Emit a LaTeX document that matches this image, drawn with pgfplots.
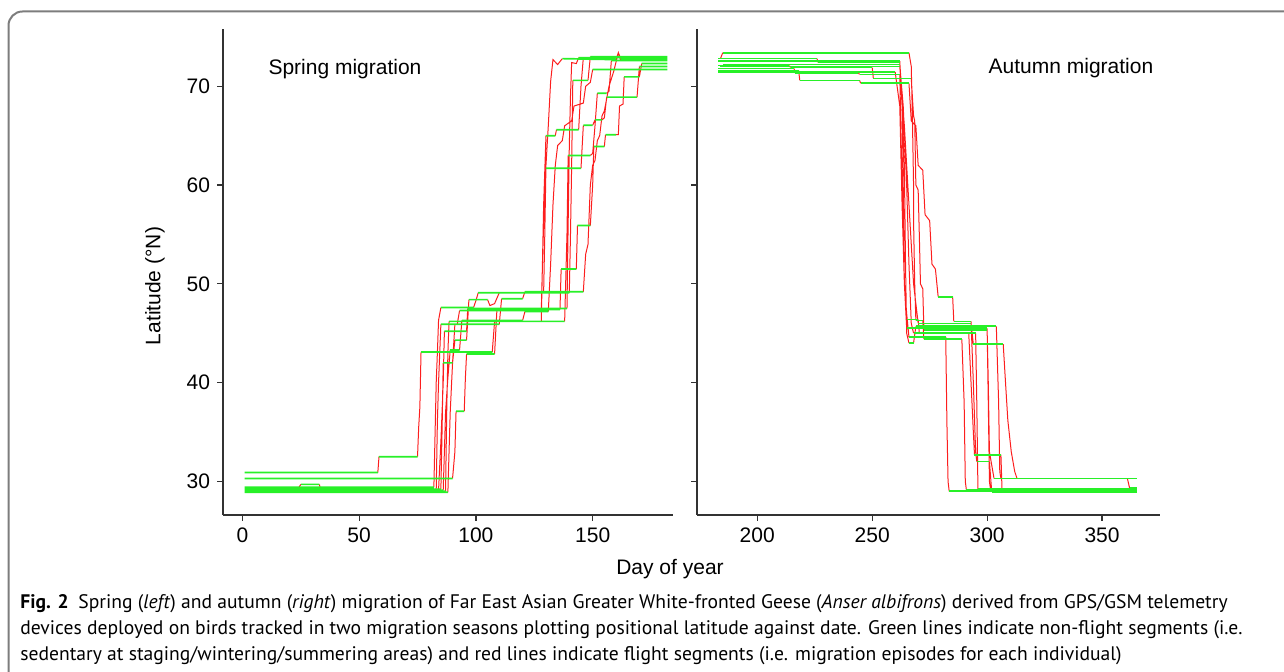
\documentclass[border=0pt]{standalone}
\usepackage{fontspec}
\setmainfont{Liberation Sans}
\newfontfamily\capfont{PT Sans}
\usepackage{pgfplots}
\pgfplotsset{compat=1.18}

\definecolor{trkgreen}{RGB}{40,240,40}
\definecolor{trkred}{RGB}{252,30,30}
\definecolor{axgray}{RGB}{50,50,50}
\definecolor{boxgray}{RGB}{125,125,125}

\pgfplotsset{
  panel/.style={
    scale only axis, height=243pt,
    axis x line*=bottom, axis y line*=left,
    axis line style={axgray, line width=1pt, -},
    tick align=outside, major tick length=3pt,
    tick style={axgray, line width=0.6pt},
    ymin=26.6, ymax=75.8, ytick={30,40,50,60,70},
    tick label style={font=\fontsize{10.5}{12}\selectfont},
    /pgf/number format/assume math mode=true,
    unbounded coords=jump,
  },
  stops/.style={trkgreen, line width=0.85pt},
  flights/.style={trkred, line width=0.5pt},
}

\begin{document}
\begin{tikzpicture}
\begin{scope}[x=0.5pt,y=0.5pt]
  \useasboundingbox (0,0) rectangle (1284,672);
  \begin{scope}
    \clip (0,0) rectangle (1284,672);
    \draw[boxgray, line width=1pt, rounded corners=7pt] (8.5,-20) -- (8.5,660.5) -- (1310,660.5);
  \end{scope}
\end{scope}

% spring
\begin{axis}[panel, at={(111.5pt,78.5pt)}, anchor=south west, width=225pt,
  xmin=-8.3, xmax=184.4, xtick={0,50,100,150}]
\addplot[flights] table[row sep=\\] {
x y\\
58 30.9\\ 58.5 32.5\\ nan nan\\
75 32.5\\ 75.5 35.5\\ 76 37.5\\ 76.5 43.1\\ nan nan\\
107 43.1\\ 108 46.2\\ nan nan\\
128 46.2\\ 129 58\\ 130 65.0\\ nan nan\\
134 65.0\\ 134.5 65.6\\ nan nan\\
144 65.6\\ 145 70\\ 146 72.9\\ nan nan\\
90 30.3\\ 91 33\\ 91.5 37.1\\ nan nan\\
95 37.1\\ 95.5 40.5\\ 96 42.9\\ nan nan\\
108 42.9\\ 109 47.4\\ nan nan\\
136 47.4\\ 136.5 51.5\\ nan nan\\
143 51.5\\ 143.5 55.9\\ nan nan\\
149 55.9\\ 150 60\\ 150.5 63.9\\ nan nan\\
155 63.9\\ 155.5 65.1\\ nan nan\\
160 65.1\\ 161 65.1\\ 161.5 68\\ 163 68.2\\ 163.5 70.95\\ nan nan\\
170 70.95\\ 171 72.3\\ nan nan\\
83 29.1\\ 83.5 36\\ 84 40\\ 85 45.9\\ nan nan\\
92 45.9\\ 93 47.3\\ nan nan\\
128 47.3\\ 128.5 52\\ 129 56\\ 130 61.7\\ nan nan\\
145 61.7\\ 146 66.05\\ nan nan\\
150 66.05\\ 151 66.6\\ nan nan\\
154 66.6\\ 155 66.8\\ 156 68.9\\ nan nan\\
169 68.9\\ 170 72.0\\ nan nan\\
85 29.2\\ 85.5 35\\ 86 42.0\\ nan nan\\
90 42.0\\ 91 44.3\\ nan nan\\
96 44.3\\ 97 48.4\\ nan nan\\
105 48.4\\ 106 47.8\\ 108 48.0\\ 110 49.1\\ nan nan\\
140 49.1\\ 140.5 55\\ 141 62\\ 141.5 70.6\\ nan nan\\
148 70.6\\ 149 73.0\\ nan nan\\
87 29.0\\ 87.5 37\\ 88 43\\ 88.5 46.2\\ nan nan\\
138 46.2\\ 139 55\\ 139.5 63.0\\ nan nan\\
149 63.0\\ 150 63.2\\ 151 66\\ 152 69.3\\ nan nan\\
156 69.3\\ 157 69.5\\ 158 72.6\\ nan nan\\
24 29.3\\ 25 29.7\\ nan nan\\
33 29.7\\ 33.5 29.1\\ nan nan\\
84 29.1\\ 85 34\\ 86 40\\ 86.5 45.2\\ nan nan\\
96 45.2\\ 96.5 47.5\\ nan nan\\
139 47.5\\ 139.5 56\\ 140 64\\ 140.5 69\\ 141 72.4\\ 143 72.3\\ 144 72.9\\ nan nan\\
88 28.9\\ 88.5 33\\ 89 37\\ 90 42\\ 91 45.9\\ nan nan\\
110 45.9\\ 111 48.5\\ nan nan\\
120 48.5\\ 121 49.2\\ nan nan\\
146 49.2\\ 147 53\\ 148 54\\ 149 60\\ 150 62\\ 151 62.5\\ 152 64.5\\ 153 65\\ 154 67\\ 155 67.5\\ 157 70\\ 159 71.5\\ 161 73.4\\ 162 72.6\\ nan nan\\
82 29.4\\ 83 40\\ 83.5 43\\ 84 46.3\\ 85 47.6\\ nan nan\\
99 47.6\\ 100 48.3\\ 101 49.1\\ nan nan\\
129 49.1\\ 129.5 55\\ 130 62\\ 131 66\\ 132 70.5\\ 133 72.7\\ 135 72.2\\ 137 72.8\\ nan nan\\
160 72.7\\ 161 73.4\\ 162 72.8\\ nan nan\\
86 29.1\\ 86.5 33\\ 87 37\\ 88 40.5\\ 89 43.3\\ nan nan\\
93 43.3\\ 94 46.3\\ nan nan\\
120 46.3\\ 121 47.2\\ nan nan\\
131 47.2\\ 132 52\\ 133 58\\ 134 62\\ 135 64\\ 137 64.5\\ 138 66\\ 141 66.5\\ 142 68\\ 146 68.3\\ 147 70\\ 149 70.4\\ 150 71.7\\ nan nan\\
};
\addplot[stops] table[row sep=\\] {
x y\\
1 30.9\\ 58 30.9\\ nan nan\\ 58.5 32.5\\ 75 32.5\\ nan nan\\
76.5 43.1\\ 107 43.1\\ nan nan\\ 108 46.2\\ 128 46.2\\ nan nan\\
130 65.0\\ 134 65.0\\ nan nan\\ 134.5 65.6\\ 144 65.6\\ nan nan\\
146 72.9\\ 182 72.9\\ nan nan\\
1 30.3\\ 90 30.3\\ nan nan\\ 91.5 37.1\\ 95 37.1\\ nan nan\\
96 42.9\\ 108 42.9\\ nan nan\\ 109 47.4\\ 136 47.4\\ nan nan\\
136.5 51.5\\ 143 51.5\\ nan nan\\ 143.5 55.9\\ 149 55.9\\ nan nan\\
150.5 63.9\\ 155 63.9\\ nan nan\\ 155.5 65.1\\ 160 65.1\\ nan nan\\
163.5 70.95\\ 170 70.95\\ nan nan\\ 171 72.3\\ 182 72.3\\ nan nan\\
1 29.1\\ 83 29.1\\ nan nan\\ 85 45.9\\ 92 45.9\\ nan nan\\
93 47.3\\ 128 47.3\\ nan nan\\ 130 61.7\\ 145 61.7\\ nan nan\\
146 66.05\\ 150 66.05\\ nan nan\\ 151 66.6\\ 154 66.6\\ nan nan\\
156 68.9\\ 169 68.9\\ nan nan\\ 170 72.0\\ 182 72.0\\ nan nan\\
1 29.2\\ 85 29.2\\ nan nan\\ 86 42.0\\ 90 42.0\\ nan nan\\
91 44.3\\ 96 44.3\\ nan nan\\ 97 48.4\\ 105 48.4\\ nan nan\\
110 49.1\\ 140 49.1\\ nan nan\\ 141.5 70.6\\ 148 70.6\\ nan nan\\
149 73.0\\ 182 73.0\\ nan nan\\
1 29.0\\ 87 29.0\\ nan nan\\ 88.5 46.2\\ 138 46.2\\ nan nan\\
139.5 63.0\\ 149 63.0\\ nan nan\\ 152 69.3\\ 156 69.3\\ nan nan\\
158 72.6\\ 182 72.6\\ nan nan\\
1 29.3\\ 24 29.3\\ nan nan\\ 25 29.7\\ 33 29.7\\ nan nan\\
33.5 29.1\\ 84 29.1\\ nan nan\\ 86.5 45.2\\ 96 45.2\\ nan nan\\
96.5 47.5\\ 139 47.5\\ nan nan\\ 144 72.9\\ 182 72.9\\ nan nan\\
1 28.9\\ 88 28.9\\ nan nan\\ 91 45.9\\ 110 45.9\\ nan nan\\
111 48.5\\ 120 48.5\\ nan nan\\ 121 49.2\\ 146 49.2\\ nan nan\\
162 72.6\\ 182 72.6\\ nan nan\\
1 29.4\\ 82 29.4\\ nan nan\\ 85 47.6\\ 99 47.6\\ nan nan\\
101 49.1\\ 129 49.1\\ nan nan\\ 137 72.8\\ 160 72.7\\ nan nan\\
162 72.8\\ 182 72.8\\ nan nan\\
1 29.1\\ 86 29.1\\ nan nan\\ 89 43.3\\ 93 43.3\\ nan nan\\
94 46.3\\ 120 46.3\\ nan nan\\ 121 47.2\\ 131 47.2\\ nan nan\\
150 71.7\\ 182 71.7\\ nan nan\\
};
\end{axis}

% autumn
\begin{axis}[panel, at={(348.5pt,78.5pt)}, anchor=south west, width=231.5pt,
  xmin=173.8, xmax=375.2, xtick={200,250,300,350}, yticklabels={}]
\addplot[flights] table[row sep=\\] {
x y\\
184 72.8\\ 185 73.4\\ nan nan\\
266 73.4\\ 267 72\\ 267.5 66.7\\ 268 60\\ 268 56.4\\ 268.5 50\\ 269 46.3\\ nan nan\\
272 46.3\\ 272.5 44.4\\ nan nan\\
289 44.4\\ 290 38\\ 290.5 30\\ 291 29.1\\ nan nan\\
226 72.8\\ 226.5 72.4\\ nan nan\\
262 72.4\\ 263 69\\ 263.5 60\\ 264 50\\ 265 46.4\\ nan nan\\
270 46.4\\ 270.5 45.0\\ nan nan\\
292 45.0\\ 293 40\\ 294 35\\ 294.5 32.7\\ nan nan\\
306 32.7\\ 306.5 29.0\\ nan nan\\
262 72.55\\ 263 68\\ 264 62\\ 264.5 52\\ 265 45.0\\ 266 44.0\\ nan nan\\
268 44.0\\ 269 45.7\\ nan nan\\
304 45.7\\ 305 38\\ 305.5 31\\ 306 30.3\\ nan nan\\
262 72.2\\ 263.5 68\\ 265 60\\ 266 52\\ 267 46.0\\ 268 45.0\\ nan nan\\
295 45.0\\ 295.5 38\\ 296 29.2\\ nan nan\\
214 72.1\\ 214.5 71.9\\ nan nan\\
250 71.9\\ 250.5 70.8\\ nan nan\\
267 70.8\\ 268 67\\ 268.5 66.5\\ 269 60\\ 270 59.5\\ 270.5 55\\ 271 50\\ 272 49.5\\ 272.5 45.3\\ nan nan\\
300 45.3\\ 300.5 40\\ 301 33\\ 303 30.3\\ nan nan\\
361 30.3\\ 362 29.3\\ nan nan\\
216 71.8\\ 216.5 71.35\\ nan nan\\
244 71.35\\ 244.5 71.2\\ nan nan\\
262 71.2\\ 263 60\\ 264 50\\ 265 47\\ 266 44.6\\ nan nan\\
282 44.6\\ 282.5 36\\ 283 30\\ 283.5 29.0\\ nan nan\\
218 71.6\\ 218.5 70.6\\ nan nan\\
244.5 70.6\\ 245 70.3\\ nan nan\\
266 70.3\\ 267 66.5\\ 269 66\\ 270 62\\ 272 61.5\\ 273 57\\ 275 56.4\\ 276 52\\ 277.5 51.5\\ 278.7 48.7\\ nan nan\\
285 48.7\\ 285.5 46.2\\ nan nan\\
293 46.2\\ 294 40\\ 295 33\\ 295.5 32.0\\ nan nan\\
301 32.0\\ 302 28.95\\ nan nan\\
262 72.0\\ 264 66\\ 266 58\\ 268 50\\ 270 46.0\\ nan nan\\
293 46.0\\ 294 43.9\\ nan nan\\
307 43.9\\ 308 40\\ 309 36.2\\ 310.5 33\\ 312 31\\ 313 30.3\\ nan nan\\
260 71.45\\ 262 68\\ 263 58\\ 264 50\\ 265 45.5\\ nan nan\\
300 45.5\\ 300.5 38\\ 301 30\\ 301.5 29.15\\ nan nan\\
};
\addplot[stops] table[row sep=\\] {
x y\\
185 73.4\\ 266 73.4\\ nan nan\\ 269 46.3\\ 272 46.3\\ nan nan\\
272.5 44.4\\ 289 44.4\\ nan nan\\ 291 29.1\\ 365 29.1\\ nan nan\\
183 72.8\\ 226 72.8\\ nan nan\\ 226.5 72.4\\ 262 72.4\\ nan nan\\
265 46.4\\ 270 46.4\\ nan nan\\ 270.5 45.0\\ 292 45.0\\ nan nan\\
294.5 32.7\\ 306 32.7\\ nan nan\\ 306.5 29.0\\ 365 29.0\\ nan nan\\
183 72.55\\ 262 72.55\\ nan nan\\ 266 44.0\\ 268 44.0\\ nan nan\\
269 45.7\\ 304 45.7\\ nan nan\\ 306 30.3\\ 365 30.3\\ nan nan\\
185 72.2\\ 262 72.2\\ nan nan\\ 268 45.0\\ 295 45.0\\ nan nan\\
296 29.2\\ 365 29.2\\ nan nan\\
183 72.1\\ 214 72.1\\ nan nan\\ 214.5 71.9\\ 250 71.9\\ nan nan\\
250.5 70.8\\ 267 70.8\\ nan nan\\ 272.5 45.3\\ 300 45.3\\ nan nan\\
303 30.3\\ 361 30.3\\ nan nan\\ 362 29.3\\ 365 29.3\\ nan nan\\
183 71.8\\ 216 71.8\\ nan nan\\ 216.5 71.35\\ 244 71.35\\ nan nan\\
244.5 71.2\\ 262 71.2\\ nan nan\\ 266 44.6\\ 282 44.6\\ nan nan\\
283.5 29.0\\ 365 29.0\\ nan nan\\
183 71.6\\ 218 71.6\\ nan nan\\ 218.5 70.6\\ 244.5 70.6\\ nan nan\\
245 70.3\\ 266 70.3\\ nan nan\\ 278.7 48.7\\ 285 48.7\\ nan nan\\
285.5 46.2\\ 293 46.2\\ nan nan\\ 295.5 32.0\\ 301 32.0\\ nan nan\\
302 28.95\\ 365 28.95\\ nan nan\\
184 72.0\\ 262 72.0\\ nan nan\\ 270 46.0\\ 293 46.0\\ nan nan\\
294 43.9\\ 307 43.9\\ nan nan\\ 313 30.3\\ 365 30.3\\ nan nan\\
183 71.45\\ 260 71.45\\ nan nan\\ 265 45.5\\ 300 45.5\\ nan nan\\
301.5 29.15\\ 365 29.15\\ nan nan\\
};
\end{axis}

\begin{scope}[x=0.5pt,y=0.5pt, font=\fontsize{10.5}{12}\selectfont]
  \node[rotate=90] at (155,386) {Latitude (°N)};
  \node at (670,103) {Day of year};
  \node at (345,603) {Spring migration};
  \node at (1071,604) {Autumn migration};
  \begin{scope}[font=\capfont\fontsize{9.8}{11}\selectfont]
    \node[anchor=base west, inner sep=0pt] at (20,63) {\textbf{Fig. 2}\enspace Spring (\textit{left}) and autumn (\textit{right}) migration of Far East Asian Greater White-fronted Geese (\textit{Anser albifrons}) derived from GPS/GSM telemetry};
    \node[anchor=base west, inner sep=0pt] at (20,37) {devices deployed on birds tracked in two migration seasons plotting positional latitude against date. Green lines indicate non-flight segments (i.e.};
    \node[anchor=base west, inner sep=0pt] at (20,11) {sedentary at staging/wintering/summering areas) and red lines indicate flight segments (i.e. migration episodes for each individual)};
  \end{scope}
\end{scope}
\end{tikzpicture}
\end{document}
